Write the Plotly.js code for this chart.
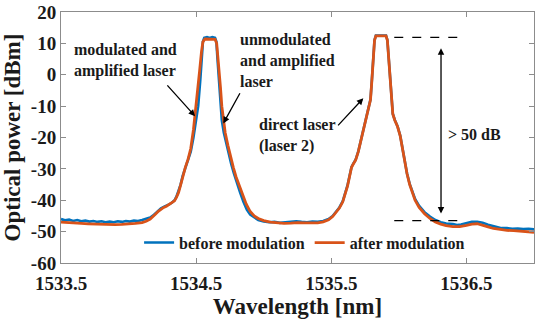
<!DOCTYPE html>
<html>
<head>
<meta charset="utf-8">
<script src="https://cdn.plot.ly/plotly-3.0.1.min.js"></script>
<style>
  html, body { margin: 0; padding: 0; background: #fff; }
  #chart { width: 545px; height: 321px; }
</style>
</head>
<body>
<div id="chart"></div>
<script>
// ─────────────────────────────
// DATA
// ─────────────────────────────
const beforeWl = [
  1533.50, 1533.53, 1533.56, 1533.59, 1533.62, 1533.65, 1533.68, 1533.71, 1533.74, 1533.77,
  1533.80, 1533.83, 1533.86, 1533.89, 1533.92, 1533.95, 1533.98, 1534.01, 1534.04, 1534.07,
  1534.10, 1534.13, 1534.16, 1534.18, 1534.20, 1534.22, 1534.24, 1534.26, 1534.28, 1534.30,
  1534.32, 1534.34, 1534.355, 1534.37, 1534.385, 1534.40, 1534.42, 1534.44, 1534.46, 1534.48,
  1534.50, 1534.515, 1534.53, 1534.54, 1534.55, 1534.56, 1534.58, 1534.60, 1534.62, 1534.64,
  1534.65, 1534.658, 1534.665, 1534.672, 1534.68, 1534.69, 1534.705, 1534.72, 1534.74, 1534.76,
  1534.78, 1534.80, 1534.825, 1534.85, 1534.875, 1534.90, 1534.93, 1534.96, 1535.00, 1535.04,
  1535.08, 1535.12, 1535.16, 1535.20, 1535.24, 1535.28, 1535.32, 1535.36, 1535.40, 1535.44,
  1535.48, 1535.51, 1535.535, 1535.56, 1535.585, 1535.605, 1535.62, 1535.635, 1535.65, 1535.665,
  1535.68, 1535.70, 1535.72, 1535.74, 1535.76, 1535.775, 1535.79, 1535.80, 1535.81, 1535.82,
  1535.83, 1535.905, 1535.915, 1535.925, 1535.935, 1535.945, 1535.955, 1535.97, 1535.99, 1536.01,
  1536.025, 1536.04, 1536.06, 1536.08, 1536.10, 1536.12, 1536.15, 1536.19, 1536.23, 1536.27,
  1536.31, 1536.35, 1536.40, 1536.43, 1536.46, 1536.50, 1536.54, 1536.58, 1536.62, 1536.66,
  1536.70, 1536.73, 1536.76, 1536.80, 1536.84, 1536.88, 1536.92, 1536.96, 1537.00
];
const beforePower = [
  -46.0, -46.4, -46.2, -46.6, -46.3, -46.7, -46.5, -46.8, -46.6, -46.9,
  -46.7, -47.0, -46.8, -47.0, -46.7, -46.9, -46.6, -46.8, -46.5, -46.6,
  -46.3, -46.0, -45.5, -44.9, -44.1, -43.3, -42.6, -42.1, -41.8, -41.3,
  -40.8, -40.0, -38.8, -37.2, -35.0, -32.3, -29.8, -27.5, -24.5, -20.0,
  -15.0, -10.0, -2.0, 5.0, 10.5, 11.8, 12.0, 11.7, 12.0, 11.8,
  10.5, 5.0, 0.0, -5.0, -11.0, -14.5, -18.5, -21.5, -25.0, -28.5,
  -31.5, -34.5, -37.5, -40.5, -43.0, -44.6, -45.6, -46.3, -46.8, -47.0,
  -46.9, -47.2, -47.0, -46.9, -46.7, -46.9, -47.0, -46.8, -46.9, -46.6,
  -46.0, -45.0, -43.8, -42.3, -40.3, -37.8, -35.3, -32.3, -29.4, -28.2,
  -27.1, -24.4, -20.9, -17.4, -13.9, -11.4, -7.9, -1.9, 6.1, 11.1,
  12.5, 12.5, 11.1, 5.1, -0.9, -7.9, -12.4, -14.4, -16.4, -19.4,
  -23.4, -27.4, -31.4, -34.8, -37.4, -39.6, -41.8, -43.8, -45.2, -46.3,
  -47.0, -47.4, -47.6, -47.9, -47.7, -47.4, -46.9, -46.9, -47.2, -47.8,
  -48.3, -48.6, -48.9, -48.9, -49.1, -49.0, -49.2, -49.1, -49.3
];

const afterWl = [
  1533.50, 1533.55, 1533.60, 1533.65, 1533.70, 1533.75, 1533.80, 1533.85, 1533.90, 1533.95,
  1534.00, 1534.05, 1534.10, 1534.13, 1534.16, 1534.18, 1534.20, 1534.22, 1534.24, 1534.26,
  1534.28, 1534.30, 1534.32, 1534.34, 1534.355, 1534.37, 1534.385, 1534.40, 1534.42, 1534.44,
  1534.46, 1534.48, 1534.495, 1534.51, 1534.525, 1534.54, 1534.55, 1534.565, 1534.60, 1534.64,
  1534.652, 1534.662, 1534.672, 1534.68, 1534.69, 1534.70, 1534.715, 1534.735, 1534.755, 1534.775,
  1534.795, 1534.82, 1534.845, 1534.87, 1534.90, 1534.93, 1534.96, 1535.00, 1535.05, 1535.10,
  1535.15, 1535.20, 1535.25, 1535.30, 1535.35, 1535.40, 1535.44, 1535.48, 1535.51, 1535.535,
  1535.56, 1535.585, 1535.605, 1535.62, 1535.635, 1535.65, 1535.665, 1535.68, 1535.70, 1535.72,
  1535.74, 1535.76, 1535.775, 1535.79, 1535.80, 1535.81, 1535.82, 1535.83, 1535.905, 1535.915,
  1535.925, 1535.935, 1535.945, 1535.955, 1535.97, 1535.99, 1536.01, 1536.025, 1536.04, 1536.06,
  1536.08, 1536.10, 1536.12, 1536.15, 1536.19, 1536.23, 1536.27, 1536.31, 1536.35, 1536.40,
  1536.45, 1536.50, 1536.54, 1536.58, 1536.62, 1536.66, 1536.70, 1536.75, 1536.80, 1536.85,
  1536.90, 1536.95, 1537.00
];
const afterPower = [
  -47.0, -47.2, -47.2, -47.4, -47.5, -47.6, -47.7, -47.8, -47.8, -47.7,
  -47.6, -47.4, -47.1, -46.7, -46.0, -45.3, -44.4, -43.5, -42.8, -42.3,
  -41.9, -41.4, -40.9, -40.2, -39.0, -37.5, -35.2, -32.5, -29.5, -27.0,
  -23.5, -17.5, -12.0, -5.5, 1.0, 7.5, 10.5, 11.4, 11.4, 11.3,
  10.0, 5.5, 1.0, -4.0, -10.0, -14.0, -18.5, -22.5, -26.5, -29.5,
  -32.5, -35.5, -38.3, -41.2, -43.6, -45.0, -45.8, -46.5, -47.0, -47.3,
  -47.4, -47.3, -47.1, -47.2, -47.3, -47.2, -46.9, -46.2, -45.2, -44.0,
  -42.5, -40.5, -38.0, -35.5, -32.5, -29.5, -28.3, -27.2, -24.5, -21.0,
  -17.5, -14.0, -11.5, -8.0, -2.0, 6.0, 11.0, 12.4, 12.4, 11.0,
  5.0, -1.0, -8.0, -12.5, -14.5, -16.5, -19.5, -23.5, -27.5, -31.5,
  -35.0, -37.7, -40.0, -42.3, -44.3, -45.8, -46.9, -47.6, -48.1, -48.4,
  -48.4, -48.0, -47.6, -47.5, -47.9, -48.5, -49.0, -49.4, -49.6, -49.7,
  -49.8, -50.0, -50.2
];

const xTicks = [1533.5, 1534.5, 1535.5, 1536.5];
const yTicks = [-60, -50, -40, -30, -20, -10, 0, 10, 20];
const seriesNames = ['before modulation', 'after modulation'];

// > 50 dB marker: dashed reference levels and arrow span
const refTop = 11.9;
const refBottom = -46.5;
const refSpan = [1535.966, 1536.49];

// ─────────────────────────────
// STYLE
// ─────────────────────────────
const FONT = '"Liberation Serif", "Times New Roman", serif';
const INK = '#1a1a1a';
const FRAME = '#8c8c8c';

function label(text, x, y) {
  return {
    text: `<b>${text}</b>`, x, y, xref: 'x', yref: 'y',
    xanchor: 'left', yanchor: 'middle', align: 'left',
    showarrow: false, borderpad: 0,
    font: { family: FONT, size: 16, color: INK }
  };
}

function arrow(x, y, ax, ay, side = 'end') {
  return {
    text: '', x, y, ax, ay, xref: 'x', yref: 'y', axref: 'x', ayref: 'y',
    showarrow: true, arrowhead: 2, arrowsize: 1, arrowwidth: 1.3,
    arrowside: side, arrowcolor: '#000', standoff: 0, startstandoff: 0
  };
}

const traces = [
  {
    x: beforeWl, y: beforePower, name: `<b>${seriesNames[0]}</b>`,
    type: 'scatter', mode: 'lines',
    line: { color: '#0072BD', width: 2.6 }
  },
  {
    x: afterWl, y: afterPower, name: `<b>${seriesNames[1]}</b>`,
    type: 'scatter', mode: 'lines',
    line: { color: '#D95319', width: 2.8 }
  }
];

const axisBase = {
  showline: true, linecolor: FRAME, linewidth: 1, mirror: 'ticks',
  ticks: 'inside', ticklen: 5, tickcolor: FRAME,
  showgrid: false, zeroline: false,
  tickfont: { family: FONT, size: 19, color: INK }
};

const layout = {
  width: 545, height: 321,
  margin: { l: 61, r: 11, t: 12, b: 58 },
  paper_bgcolor: '#fff', plot_bgcolor: '#fff',
  font: { family: FONT, color: INK },
  showlegend: true,
  legend: {
    orientation: 'h', x: 0.515, y: 0.081, xanchor: 'center', yanchor: 'middle',
    bgcolor: 'rgba(0,0,0,0)', borderwidth: 0,
    font: { family: FONT, size: 16, color: INK },
    itemwidth: 30, tracegroupgap: 0
  },
  xaxis: {
    ...axisBase,
    range: [1533.5, 1537], tickvals: xTicks,
    ticktext: xTicks.map(v => `<b>${v.toFixed(1)}</b>`),
    ticklabelstandoff: 3,
    title: { text: '<b>Wavelength [nm]</b>', font: { family: FONT, size: 23, color: INK }, standoff: 1 }
  },
  yaxis: {
    ...axisBase,
    range: [-60, 20], tickvals: yTicks,
    ticktext: yTicks.map(v => `<b>${v}</b>`),
    title: { text: '<b>Optical power [dBm]</b>', font: { family: FONT, size: 23, color: INK }, standoff: 4 }
  },
  shapes: [
    { type: 'line', xref: 'x', yref: 'y', x0: refSpan[0], x1: refSpan[1], y0: refTop, y1: refTop,
      line: { color: '#000', width: 1.2, dash: 'dash' } },
    { type: 'line', xref: 'x', yref: 'y', x0: refSpan[0], x1: refSpan[1], y0: refBottom, y1: refBottom,
      line: { color: '#000', width: 1.2, dash: 'dash' } }
  ],
  annotations: [
    label('modulated and<br>amplified laser', 1533.59, 4.6),
    arrow(1534.492, -13.2, 1534.277, -2.9),
    label('unmodulated<br>and amplified<br>laser', 1534.82, 4.4),
    arrow(1534.701, -15.5, 1534.830, -5.4),
    label('direct laser<br>(laser 2)', 1534.96, -19.5),
    arrow(1535.737, -7.5, 1535.540, -16.6),
    label('&gt; 50 dB', 1536.355, -19.2),
    arrow(1536.312, -44.2, 1536.312, 8.9, 'end+start')
  ]
};

Plotly.newPlot('chart', traces, layout, { displayModeBar: false, staticPlot: true });
</script>
</body>
</html>
